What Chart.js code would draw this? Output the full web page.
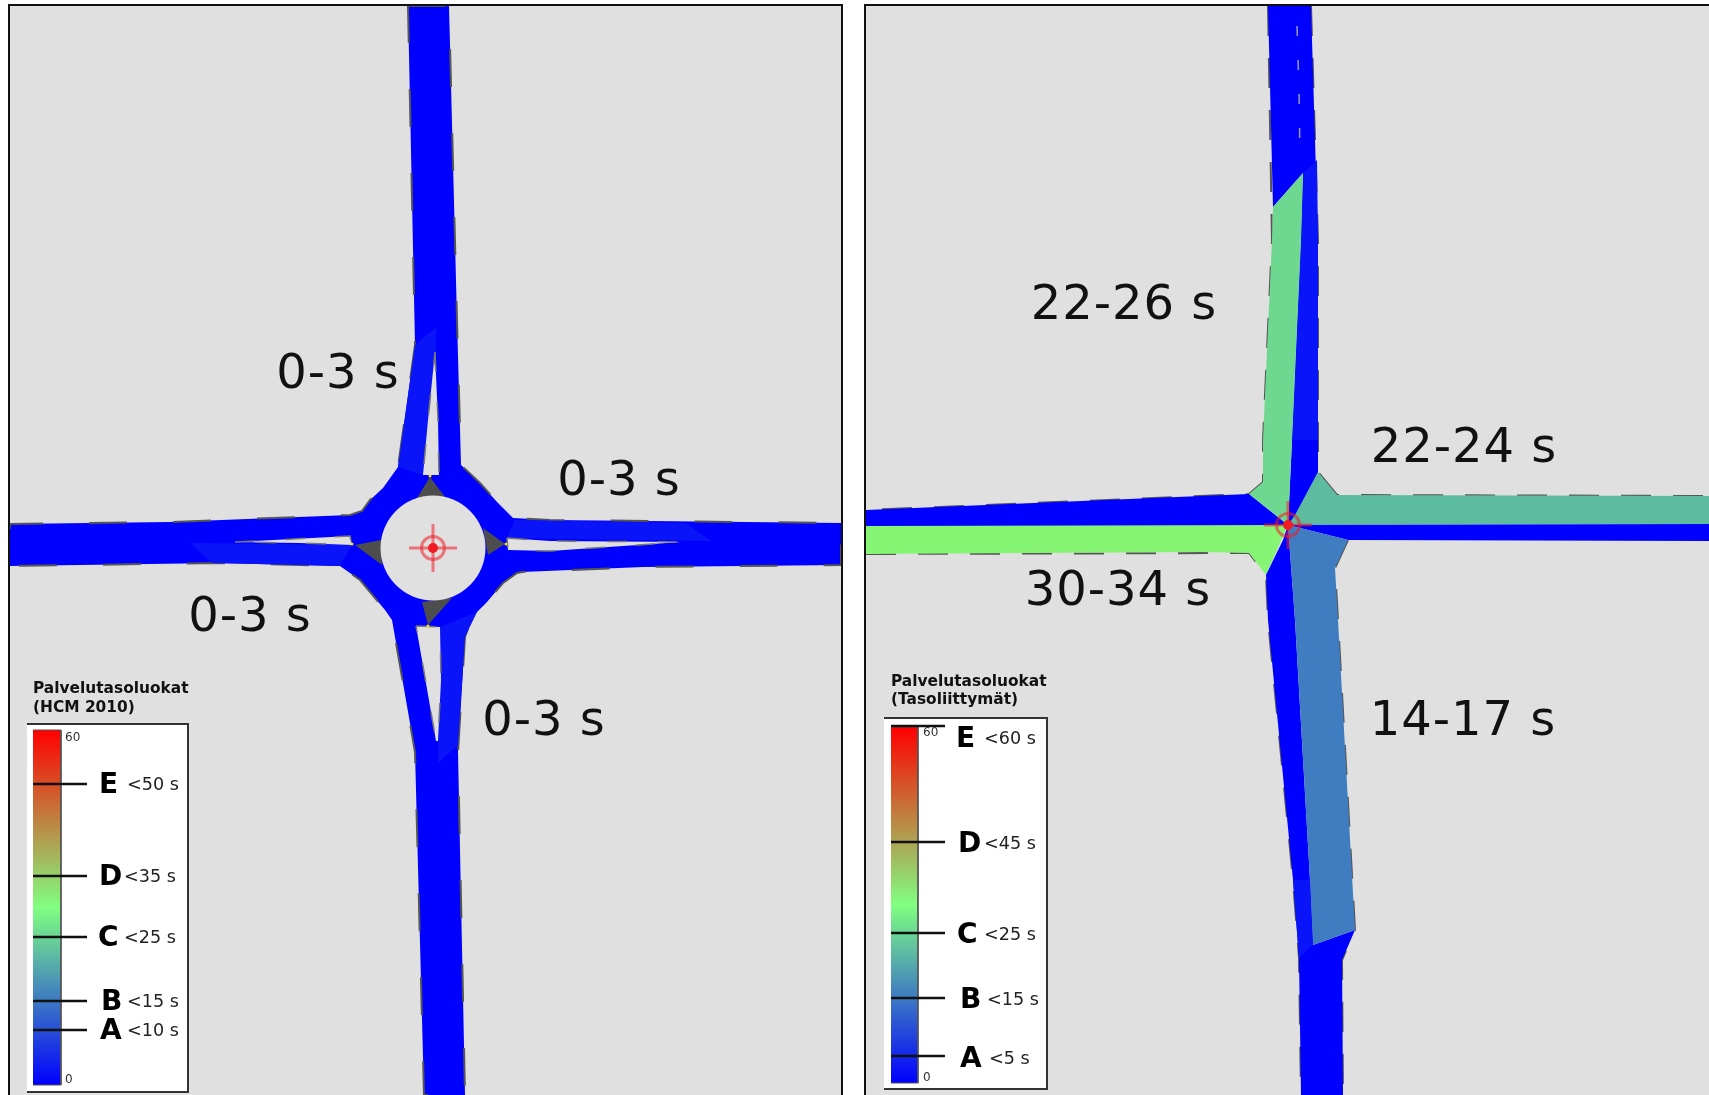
<!DOCTYPE html>
<html>
<head>
<meta charset="utf-8">
<script src="https://cdn.jsdelivr.net/npm/chart.js@4/dist/chart.umd.min.js"></script>
<style>
  html, body { margin: 0; padding: 0; background: #fff; overflow: hidden; }
  .panel { position: absolute; top: 4px; height: 1091px; background: #e0e0e0; border: 2px solid #111; border-bottom: none; box-sizing: border-box; }
  #leftPanel { left: 8px; width: 835px; }
  #rightPanel { left: 864px; width: 847px; }
  canvas { display: block; }
</style>
</head>
<body>
<div class="panel" id="leftPanel"><canvas id="leftChart" width="831" height="1089"></canvas></div>
<div class="panel" id="rightPanel"><canvas id="rightChart" width="843" height="1089"></canvas></div>
<script>
// left: roundabout, all approaches 0-3 s
const leftRoad = [[408,6],[449,6],[457,320],[461,465],[480,483],[497,502],[513,518],[550,520],[841,523],[841,565],[643,567],[522,572],[517,573],[503,583],[487,602],[477,612],[470,623],[465,637],[458,752],[465,1095],[424,1095],[415,752],[395,637],[392,620],[385,610],[360,580],[340,566],[218,563],[10,566],[10,524],[170,522],[350,515],[362,511],[370,500],[383,488],[398,467],[415,345]];
const leftShadeN = [[415,345],[436,327],[436,352],[423,475],[398,467]];
const leftShadeE = [[515,520],[686,523],[711,541],[507,538]];
const leftShadeS = [[440,627],[477,612],[465,637],[458,745],[438,763]];
const leftShadeW = [[190,543],[352,545],[340,566],[212,563]];
const leftIslands = [
  [[435,352],[438,420],[439,475],[423,475],[428,420]],
  [[507,538],[550,541],[681,542],[550,551],[508,550]],
  [[416,626],[440,627],[441,680],[438,741],[436,741],[422,660]],
  [[235,542],[350,536],[352,545],[300,543]]
];
const leftWedges = [
  [[430,477],[417,498],[445,497]],
  [[483,528],[505,544],[488,555]],
  [[422,602],[452,598],[428,625]],
  [[355,545],[381,540],[382,565]]
];
const leftCentre = [433, 548];
const leftNodes = [[430,476],[506,544],[428,626],[352,544]];
const leftLabels = ['0-3 s', '0-3 s', '0-3 s', '0-3 s'];
const leftLabelAt = [[338,376],[619,483],[250,619],[544,723]];

// right: junction, delay per approach
const rightBlueN = [[1268,6],[1311,6],[1318,240],[1318,472],[1295,515],[1288,525],[1292,440],[1301,240],[1303,173],[1273,207]];
const rightShadeN = [[1303,173],[1317,160],[1318,240],[1318,440],[1292,440],[1301,240]];
const rightGreenN = [[1249,494],[1263,482],[1263,440],[1272,240],[1273,207],[1303,173],[1301,240],[1292,440],[1288,525]];
const rightBlueW = [[866,510],[1249,494],[1288,525],[866,526]];
const rightGreenW = [[866,525],[1288,525],[1266,575],[1249,553],[1200,552],[866,554]];
const rightTealE = [[1288,525],[1318,472],[1337,495],[1709,496],[1709,524]];
const rightBlueE = [[1288,525],[1709,524],[1709,541],[1348,540]];
const rightBlueS = [[1288,525],[1283,540],[1266,575],[1268,620],[1293,880],[1299,958],[1301,1095],[1343,1095],[1342,960],[1355,930],[1313,945],[1310,880],[1295,620]];
const rightShadeS = [[1310,880],[1313,945],[1299,958],[1293,880]];
const rightSteelS = [[1288,525],[1348,540],[1335,568],[1338,620],[1355,930],[1313,945],[1310,880],[1295,620]];
const rightCentreLine = [[1297,26],[1299,90],[1300,160]];
const rightEdges = [
  [[1268,6],[1272,240],[1263,440],[1263,482],[1249,494],[866,510]],
  [[1311,6],[1318,240],[1318,472],[1337,495],[1709,496]],
  [[866,554],[1249,553],[1266,575],[1268,620],[1293,880],[1299,958],[1301,1095]],
  [[1348,540],[1335,568],[1338,620],[1355,930],[1342,960],[1343,1095]]
];
const rightCentre = [1288, 525];
const rightLabels = ['22-26 s', '22-24 s', '30-34 s', '14-17 s'];
const rightLabelAt = [[1124,307],[1464,450],[1118,593],[1463,723]];

// service level legends
const leftTitle = ['Palvelutasoluokat', '(HCM 2010)'];
const leftClasses = ['E', 'D', 'C', 'B', 'A'];
const leftLimits = ['<50 s', '<35 s', '<25 s', '<15 s', '<10 s'];
const leftTickY = [784, 876, 937, 1001, 1030];
const leftLetterY = [786, 878, 939, 1003, 1032];
const leftLetterX = [99, 99, 98, 101, 100];
const leftLimitX = [127, 124, 124, 127, 127];
const rightTitle = ['Palvelutasoluokat', '(Tasoliittymät)'];
const rightClasses = ['E', 'D', 'C', 'B', 'A'];
const rightLimits = ['<60 s', '<45 s', '<25 s', '<15 s', '<5 s'];
const rightTickY = [726, 842, 933, 998, 1056];
const rightLetterY = [740, 845, 936, 1001, 1060];
const rightLetterX = [956, 958, 957, 960, 960];
const rightLimitX = [984, 984, 984, 987, 989];

const BLUE = '#0000ff';
const SHADE = '#0a14f8';
const GREY = '#e0e0e0';
const FONT = '"DejaVu Sans"';

function pts(list) {
  return list.map(p => ({ x: p[0], y: p[1] }));
}
function shape(list, color, extra) {
  return Object.assign({ data: pts(list), showLine: true, fill: 'shape', backgroundColor: color, borderColor: color, borderWidth: 0, pointRadius: 0 }, extra);
}
function stroke(list, color, width, dash) {
  return { data: pts(list), showLine: true, fill: false, borderColor: color, borderWidth: width, borderDash: dash || [], pointRadius: 0 };
}
function dot(p, radius, color, style, line, width) {
  return { data: pts([p]), showLine: false, pointStyle: style || 'circle', pointRadius: radius, backgroundColor: color, borderColor: line || color, borderWidth: width || 0 };
}
function target(p) {
  const red = 'rgba(240,30,40,0.55)';
  return [
    dot(p, 24, red, 'cross', red, 3),
    dot(p, 11.5, 'rgba(0,0,0,0)', null, red, 3),
    dot(p, 5, '#f01c24')
  ];
}
function scaleGradient(ctx) {
  const chart = ctx.chart;
  if (!chart.chartArea || !chart.scales.y) return BLUE;
  const ys = ctx.dataset.data.map(d => d.y);
  const top = chart.scales.y.getPixelForValue(Math.min(...ys));
  const bottom = chart.scales.y.getPixelForValue(Math.max(...ys));
  if (!isFinite(top) || !isFinite(bottom)) return BLUE;
  const g = chart.ctx.createLinearGradient(0, bottom, 0, top);
  g.addColorStop(0, '#0000ff');
  g.addColorStop(0.5, '#80ff80');
  g.addColorStop(1, '#ff0000');
  return g;
}
function legendSets(box, bar, tickY, tickX) {
  const sets = [
    shape(box, '#fff', { borderColor: '#333', borderWidth: 2 }),
    shape(bar, scaleGradient, { borderColor: '#555', borderWidth: 1 })
  ];
  tickY.forEach(y => sets.push(stroke([[tickX[0], y], [tickX[1], y]], '#111', 2.5)));
  return sets;
}

const textPlugin = {
  id: 'panelText',
  afterDatasetsDraw(chart, args, opts) {
    const c = chart.ctx;
    const sx = v => chart.scales.x.getPixelForValue(v);
    const sy = v => chart.scales.y.getPixelForValue(v);
    c.save();
    c.textBaseline = 'middle';
    opts.items.forEach(t => {
      c.font = t.font;
      c.fillStyle = t.color || '#111';
      c.textAlign = t.align || 'left';
      c.letterSpacing = t.spacing || '0px';
      c.fillText(t.text, sx(t.x), sy(t.y));
    });
    c.restore();
  }
};

function textItems(labels, labelAt, title, titleX, titleY, classes, limits, letterX, limitX, letterY, scaleTop, scaleBottom) {
  const items = [];
  labels.forEach((s, i) => items.push({ text: s, x: labelAt[i][0], y: labelAt[i][1], align: 'center', font: '48px ' + FONT, spacing: '1px' }));
  title.forEach((s, i) => items.push({ text: s, x: titleX, y: titleY[i], font: 'bold 15.4px ' + FONT }));
  classes.forEach((s, i) => {
    items.push({ text: s, x: letterX[i], y: letterY[i], font: 'bold 28px ' + FONT, color: '#000' });
    items.push({ text: limits[i], x: limitX[i], y: letterY[i] - 1, font: '17.6px ' + FONT, color: '#222' });
  });
  items.push({ text: '60', x: scaleTop[0], y: scaleTop[1], font: '12px ' + FONT, color: '#333' });
  items.push({ text: '0', x: scaleBottom[0], y: scaleBottom[1], font: '12px ' + FONT, color: '#333' });
  return items;
}

function draw(id, xRange, layers, items) {
  // first entry in layers is painted first, chart.js paints high order first
  layers.forEach((d, i) => { d.order = layers.length - i; });
  new Chart(document.getElementById(id), {
    type: 'scatter',
    data: { datasets: layers },
    plugins: [textPlugin],
    options: {
      responsive: false,
      animation: false,
      layout: { autoPadding: false, padding: 0 },
      events: [],
      scales: {
        x: { type: 'linear', display: false, min: xRange[0], max: xRange[1] },
        y: { type: 'linear', display: false, min: 6, max: 1095, reverse: true }
      },
      plugins: {
        legend: { display: false },
        tooltip: { enabled: false },
        panelText: { items: items }
      }
    }
  });
}

draw('leftChart', [10, 841], [
  shape(leftRoad, BLUE),
  stroke(leftRoad.concat([leftRoad[0]]), '#555', 2, [38, 46]),
  shape(leftShadeN, SHADE), shape(leftShadeE, SHADE), shape(leftShadeS, SHADE), shape(leftShadeW, SHADE),
  ...leftIslands.map(s => shape(s, GREY)),
  ...leftIslands.map(s => stroke(s.concat([s[0]]), '#777', 1.5, [20, 30])),
  ...leftWedges.map(s => shape(s, '#4d4d4d')),
  dot(leftCentre, 52.5, GREY),
  ...leftNodes.map(p => dot(p, 1.5, '#f2e600')),
  ...target(leftCentre),
  ...legendSets([[27,724],[188,724],[188,1092],[27,1092]], [[33,730],[61,730],[61,1085],[33,1085]], leftTickY, [33, 87])
], textItems(leftLabels, leftLabelAt, leftTitle, 33, [689, 708], leftClasses, leftLimits, leftLetterX, leftLimitX, leftLetterY, [65, 738], [65, 1080]));

draw('rightChart', [866, 1709], [
  ...rightEdges.map(s => stroke(s, '#555', 2, [30, 22])),
  shape(rightGreenW, '#86f574'),
  shape(rightBlueW, BLUE),
  shape(rightTealE, '#5dbb9f'),
  shape(rightBlueE, BLUE),
  shape(rightBlueS, BLUE),
  shape(rightSteelS, '#3f7cc0'),
  shape(rightShadeS, SHADE),
  shape(rightBlueN, BLUE),
  shape(rightShadeN, SHADE),
  shape(rightGreenN, '#6fd890'),
  stroke(rightCentreLine, '#9a9ac8', 1.5, [10, 24]),
  ...target(rightCentre),
  ...legendSets([[884,718],[1047,718],[1047,1089],[884,1089]], [[891,727],[918,727],[918,1083],[891,1083]], rightTickY, [891, 945])
], textItems(rightLabels, rightLabelAt, rightTitle, 891, [682, 700], rightClasses, rightLimits, rightLetterX, rightLimitX, rightLetterY, [923, 733], [923, 1078]));
</script>
</body>
</html>
